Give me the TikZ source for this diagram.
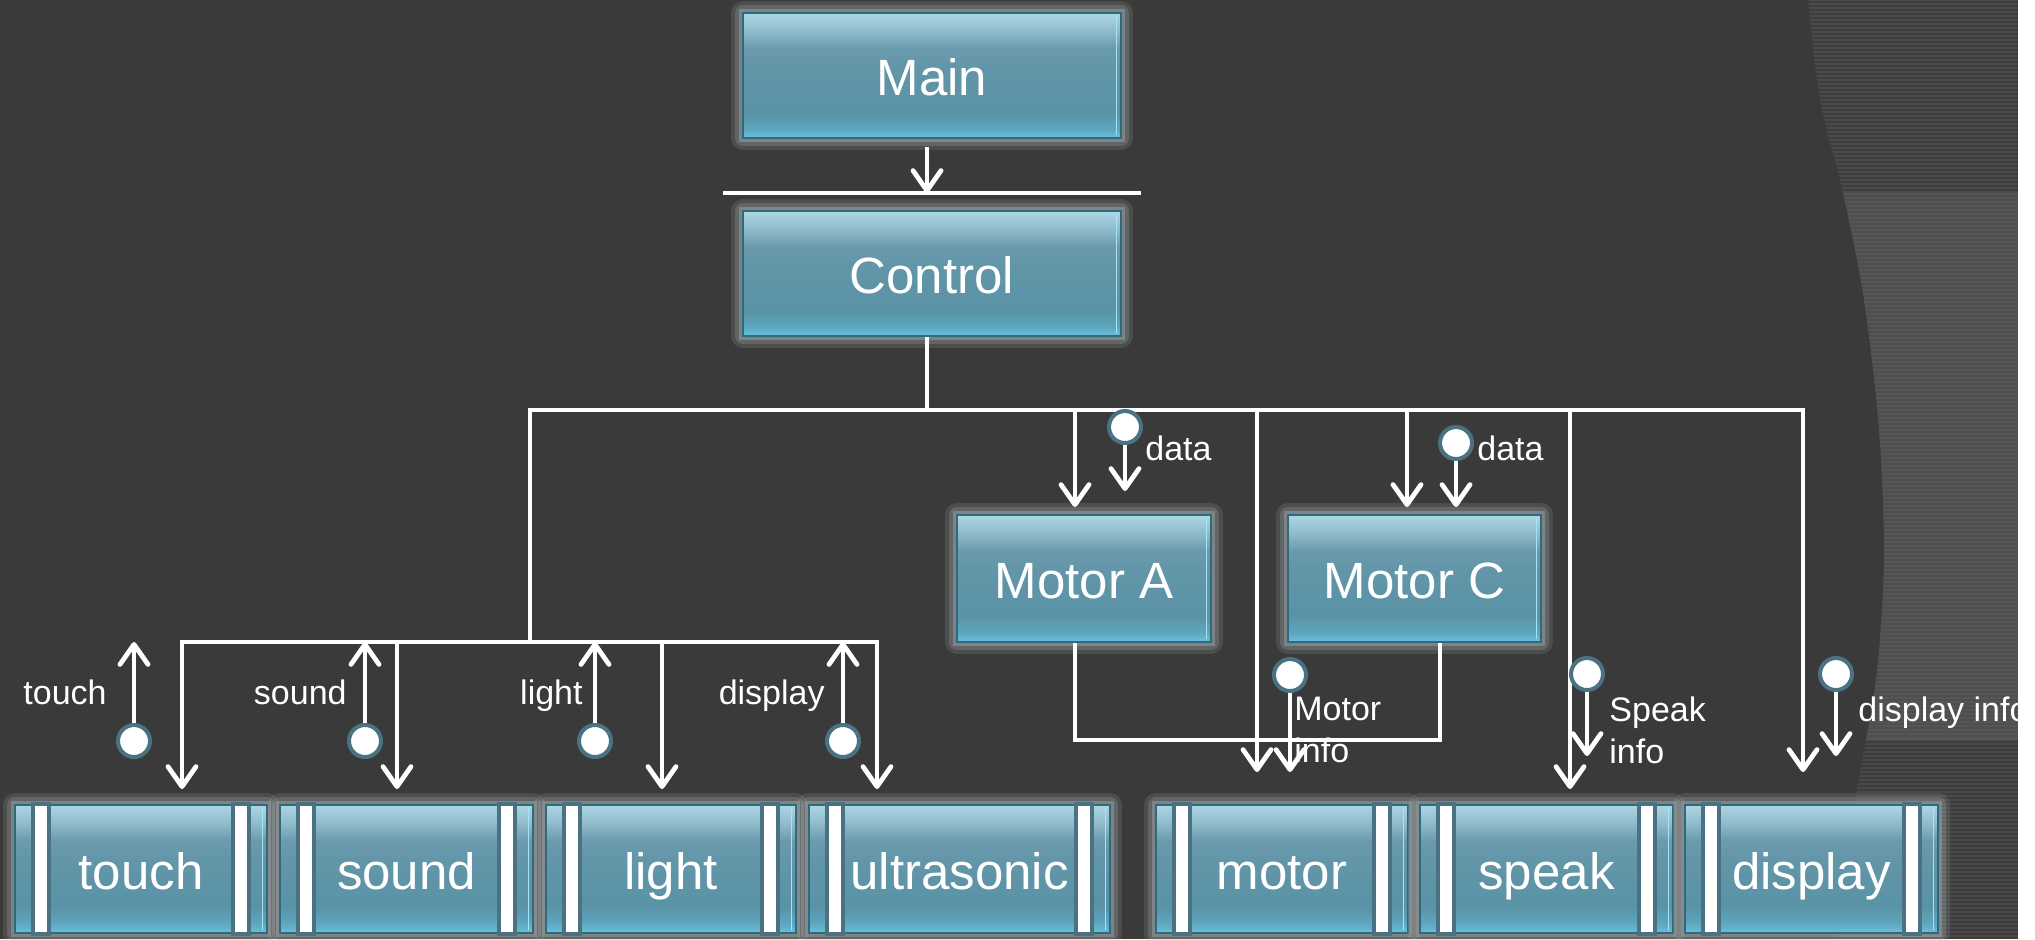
\documentclass[tikz,border=0pt]{standalone}
\usepackage{fontspec}
\setmainfont{Liberation Sans}
\usetikzlibrary{arrows.meta}
\definecolor{bgdark}{HTML}{3A3A3A}
\definecolor{bgup}{HTML}{4A4A4A}
\definecolor{bgmid}{HTML}{555555}
\definecolor{bglow}{HTML}{494949}
\definecolor{tb0}{HTML}{6CC2DE}
\definecolor{tb1}{HTML}{5DA8C1}
\definecolor{tb2}{HTML}{5A93A6}
\definecolor{tb3}{HTML}{6295A8}
\definecolor{tb4}{HTML}{6A9BAD}
\definecolor{tb5}{HTML}{8DBACB}
\definecolor{tb6}{HTML}{AED6E4}
\definecolor{boxedge}{HTML}{2F6A7F}
\definecolor{glowc}{HTML}{B4BDC0}
\definecolor{knobedge}{HTML}{4B7282}
\definecolor{hilite}{HTML}{A6E4F4}
\pgfdeclareverticalshading{tealshade}{100bp}{color(0bp)=(tb0); color(25bp)=(tb0); color(28.5bp)=(tb1); color(35bp)=(tb2); color(52.5bp)=(tb3); color(61bp)=(tb4); color(67.5bp)=(tb5); color(75bp)=(tb6); color(100bp)=(tb6)}
\tikzset{
  glowbox/.style={shading=tealshade, draw=boxedge, line width=1pt, text=white,
    font=\fontsize{25.5}{30}\selectfont, inner sep=0pt, text height=20pt, text depth=0pt,
    preaction={draw=glowc, line width=12pt, opacity=0.15, line join=round},
    preaction={draw=glowc, line width=8pt, opacity=0.22, line join=round},
    preaction={draw=glowc, line width=4pt, opacity=0.35},
    path picture={\draw[hilite, line width=0.7pt]
      ([xshift=-2.2pt,yshift=-1.5pt]path picture bounding box.north east) --
      ([xshift=-2.2pt,yshift=1.5pt]path picture bounding box.south east);}},
  sidebar/.style={fill=white, draw=knobedge, line width=1.6pt},
  wire/.style={draw=white, line width=2.4pt},
  arr/.style={wire, -{Straight Barb[length=10pt,width=14pt,round]}},
  knob/.style={circle, fill=white, draw=knobedge, line width=2pt, minimum size=16pt, inner sep=0pt},
  lbl/.style={text=white, font=\fontsize{17}{21}\selectfont, inner sep=0pt},
  lbl1/.style={lbl, text height=12.5pt, text depth=0pt}
}
\begin{document}
\begin{tikzpicture}[x=0.5pt, y=-0.5pt]
% background
\fill[bgdark] (0,0) rectangle (2035,939);
\begin{scope}
  \clip plot[smooth] coordinates {(1808,0) (1820,100) (1843,193) (1864,300) (1879,430) (1884,560) (1876,680) (1857,790) (1835,939)} -- (2035,939) -- (2035,0) -- cycle;
  \fill[bgup] (1700,0) rectangle (2035,193);
  \fill[bgmid] (1700,193) rectangle (2035,740);
  \fill[bglow] (1700,740) rectangle (2035,939);
  \foreach \yy in {2,6,...,190} {\draw[black, opacity=0.16, line width=0.7pt] (1700,\yy) -- (2035,\yy);}
  \foreach \yy in {196,200,...,738} {\draw[black, opacity=0.08, line width=0.6pt] (1700,\yy) -- (2035,\yy);}
  \foreach \yy in {742,746,...,938} {\draw[black, opacity=0.16, line width=0.7pt] (1700,\yy) -- (2035,\yy);}
\end{scope}
\useasboundingbox (0,0) rectangle (2035,939);

% boxes
\node[glowbox, minimum width=189pt, minimum height=62.5pt] (main) at (932,75.5) {Main};
\node[glowbox, minimum width=189pt, minimum height=62.5pt] (control) at (932,273.5) {Control};
\node[glowbox, minimum width=127pt, minimum height=63.5pt] (motA) at (1084,578.5) {Motor A};
\node[glowbox, minimum width=126.5pt, minimum height=63.5pt] (motC) at (1414.5,578.5) {Motor C};
\node[glowbox, minimum width=126pt, minimum height=64pt] (touch) at (141,869) {touch};
\node[glowbox, minimum width=126.5pt, minimum height=64pt] (sound) at (406.5,869) {sound};
\node[glowbox, minimum width=125pt, minimum height=64pt] (light) at (671,869) {light};
\node[glowbox, minimum width=150.5pt, minimum height=64pt] (ultra) at (959.5,869) {ultrasonic};
\node[glowbox, minimum width=126pt, minimum height=64pt] (motor) at (1282,869) {motor};
\node[glowbox, minimum width=126.5pt, minimum height=64pt] (speak) at (1546.5,869) {speak};
\node[glowbox, minimum width=126.5pt, minimum height=64pt] (disp) at (1811.5,869) {display};
\foreach \b in {touch,sound,light,ultra,motor,speak,disp}{
  \draw[sidebar] ([xshift=9.5pt]\b.north west) rectangle ([xshift=17.5pt]\b.south west);
  \draw[sidebar] ([xshift=-17.5pt]\b.north east) rectangle ([xshift=-9.5pt]\b.south east);
}

% top connectors
\coordinate (barL) at (723,193);
\coordinate (barR) at (1141,193);
\coordinate (barhit) at (927,193);
\draw[wire] (barL) -- (barR);
\draw[arr] ([yshift=-4pt]main.south -| barhit) -- (barhit);

\coordinate (busC) at (927,410);
\coordinate (busL) at (530,410);
\coordinate (busR) at (1803,410);
\coordinate (lbus) at (530,642);
\coordinate (lbL) at (182,642);
\coordinate (lbR) at (877,642);
\draw[wire] (control.south -| busC) -- (busC);
\draw[wire] (busR) -- (busL) -- (lbus);
\draw[arr] (busL) -- (busR) -- ([yshift=16pt]disp.north -| busR);

% left sensor group
\draw[arr] (lbR) -- (lbL) -- ([yshift=7.5pt]touch.north -| lbL);
\draw[arr] (lbL) -- (lbR) -- ([yshift=7.5pt]ultra.north -| lbR);
\coordinate (sdn) at (397,642);
\coordinate (ldn) at (662,642);
\draw[arr] (sdn) -- ([yshift=7.5pt]sound.north -| sdn);
\draw[arr] (ldn) -- ([yshift=7.5pt]light.north -| ldn);

\node[knob] (ktouch) at (134,741) {};
\node[knob] (ksound) at (365,741) {};
\node[knob] (klight) at (595,741) {};
\node[knob] (kdisp) at (843,741) {};
\draw[arr] (ktouch.north) -- (ktouch |- lbL);
\draw[arr] (ksound.north) -- (ksound |- lbL);
\draw[arr] (klight.north) -- (klight |- lbL);
\draw[arr] (kdisp.north) -- (kdisp |- lbL);
\node[lbl1, anchor=east] (ltouch) at (107,692) {touch};
\node[lbl1, anchor=east] (lsound) at (347,692) {sound};
\node[lbl1, anchor=east] (llight) at (583,692) {light};
\node[lbl1, anchor=east] (ldisp) at (825,692) {display};

% motors
\coordinate (mA) at (1075,410);
\draw[arr] (mA) -- ([yshift=3.5pt]motA.north -| mA);
\node[knob] (kdA) at (1125,427) {};
\draw[arr] (kdA.south) -- ([yshift=11.5pt]motA.north -| kdA);
\node[lbl1, anchor=west] (ldA) at (1145,447.5) {data};

\coordinate (mC) at (1407,410);
\draw[arr] (mC) -- ([yshift=3.5pt]motC.north -| mC);
\node[knob] (kdC) at (1456,443) {};
\draw[arr] (kdC.south) -- ([yshift=3.5pt]motC.north -| kdC);
\node[lbl1, anchor=west] (ldC) at (1477,447.5) {data};

\coordinate (uL) at (1075,740);
\coordinate (uR) at (1440,740);
\draw[wire] (motA.south -| uL) -- (uL) -- (uR) -- (motC.south -| uR);

% outputs
\coordinate (mlong) at (1257,410);
\draw[arr] (mlong) -- ([yshift=16pt]motor.north -| mlong);
\node[knob] (kmot) at (1290,675) {};
\draw[arr] (kmot.south) -- ([yshift=16pt]motor.north -| kmot);
\node[lbl, anchor=north west, align=left] (lmot) at (1294,697) {Motor\\info};

\coordinate (slong) at (1570,410);
\draw[arr] (slong) -- ([yshift=7.5pt]speak.north -| slong);
\node[knob] (kspk) at (1587,674) {};
\draw[arr] (kspk.south) -- ([yshift=24pt]speak.north -| kspk);
\node[lbl, anchor=north west, align=left] (lspk) at (1609,696) {Speak\\info};

\node[knob] (kdsp) at (1836,674) {};
\draw[arr] (kdsp.south) -- ([yshift=24pt]disp.north -| kdsp);
\node[lbl1, anchor=west] (ldsp) at (1858,709) {display info};

\fill[white] (2018,0) rectangle (2035,939);
\end{tikzpicture}
\end{document}
